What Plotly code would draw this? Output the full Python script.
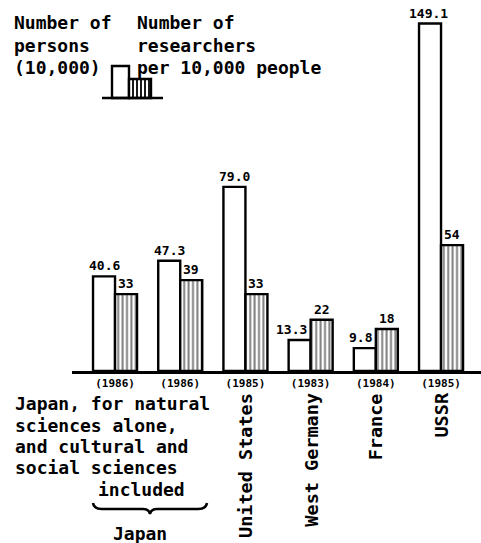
import plotly.graph_objects as go

# ---- data ----
categories = ["Japan (natural sciences)", "Japan (all sciences)", "United States",
              "West Germany", "France", "USSR"]
years = ["(1986)", "(1986)", "(1985)", "(1983)", "(1984)", "(1985)"]
persons = [40.6, 47.3, 79.0, 13.3, 9.8, 149.1]          # number of persons (10,000)
per_10000 = [33, 39, 33, 22, 18, 54]                     # researchers per 10,000 people
person_labels = ["40.6", "47.3", "79.0", "13.3", "9.8", "149.1"]
per_labels = ["33", "39", "33", "22", "18", "54"]
country_labels = ["", "", "United States", "West Germany", "France", "USSR"]

# ---- layout geometry (pixels) ----
W, H = 481, 543
L, R, T, B = 72, 0, 0, 172
PW, PH = W - L - R, H - T - B
FONT = "DejaVu Sans Mono"


def px(x):
    return (x - L) / PW


def py(y):
    return (H - B - y) / PH


fig = go.Figure()
fig.add_trace(go.Bar(
    x=categories, y=persons, name="Number of persons (10,000)",
    marker=dict(color="white", line=dict(color="black", width=2.4)),
))
fig.add_trace(go.Bar(
    x=categories, y=per_10000, name="Number of researchers per 10,000 people",
    marker=dict(color="white", line=dict(color="black", width=2.4),
                pattern=dict(shape="|", size=4.4, solidity=0.45,
                             fgcolor="black", bgcolor="white")),
))

annotations = []
label_font = dict(family=FONT, size=13, color="black", weight="bold")
# value labels above the bars
shifts_persons = [0, 0, 0, -8, -4, -2]
for c, v, t, s in zip(categories, persons, person_labels, shifts_persons):
    annotations.append(dict(x=c, y=v, text=t, xref="x", yref="y", showarrow=False,
                            xshift=-11 + s, yanchor="bottom", yshift=1, font=label_font))
for c, v, t in zip(categories, per_10000, per_labels):
    annotations.append(dict(x=c, y=v, text=t, xref="x", yref="y", showarrow=False,
                            xshift=11, yanchor="bottom", yshift=1, font=label_font))

big = dict(family=FONT, size=18, color="black", weight="bold")

# rotated country labels
for c, t in zip(categories, country_labels):
    if t:
        annotations.append(dict(x=c, y=py(391), xref="x", yref="paper", text=t,
                                textangle=-90, showarrow=False, xanchor="center",
                                yanchor="top", font=dict(big, size=18.5)))


def line(x, y, text, font=big, anchor="left"):
    annotations.append(dict(x=px(x), y=py(y), xref="paper", yref="paper", text=text,
                            showarrow=False, xanchor=anchor, yanchor="middle", font=font))


# header legend texts
for i, t in enumerate(["Number of", "persons", "(10,000)"]):
    line(12, 22 + 23 * i, t)
for i, t in enumerate(["Number of", "researchers", "per 10,000 people"]):
    line(135, 22 + 23 * i, t)

# bottom note
note = ["Japan, for natural", "sciences alone,", "and cultural and", "social sciences"]
for i, t in enumerate(note):
    line(13, 404 + 21.3 * i, t)
line(96, 489, "included")
line(140, 533, "Japan", anchor="center")

shapes = []
# legend icon
shapes.append(dict(type="rect", xref="paper", yref="paper", x0=px(112), x1=px(129),
                   y0=py(98), y1=py(66), line=dict(color="black", width=2.4),
                   fillcolor="white"))
shapes.append(dict(type="rect", xref="paper", yref="paper", x0=px(129), x1=px(151),
                   y0=py(98), y1=py(79), line=dict(color="black", width=2.4),
                   fillcolor="white"))
for xx in [133, 137, 141, 145, 149]:
    shapes.append(dict(type="line", xref="paper", yref="paper", x0=px(xx), x1=px(xx),
                       y0=py(98), y1=py(79), line=dict(color="black", width=1.8)))
shapes.append(dict(type="line", xref="paper", yref="paper", x0=px(102), x1=px(163),
                   y0=py(98), y1=py(98), line=dict(color="black", width=2.5)))


def P(x, y):
    return f"{px(x)},{py(y)}"


# brace under Japan
brace = (f"M {P(93,503)} Q {P(94,509)} {P(102,509)} L {P(143,509)} "
         f"Q {P(149,509)} {P(150,514)} Q {P(151,509)} {P(157,509)} "
         f"L {P(198,509)} Q {P(206,509)} {P(207,503)}")
shapes.append(dict(type="path", xref="paper", yref="paper", path=brace,
                   line=dict(color="black", width=2.5)))

fig.update_layout(
    width=W, height=H,
    margin=dict(l=L, r=R, t=T, b=B),
    paper_bgcolor="white", plot_bgcolor="white",
    barmode="group", bargap=0.325, bargroupgap=0,
    showlegend=False,
    annotations=annotations, shapes=shapes,
    xaxis=dict(type="category", range=[-0.66, 5.613], tickvals=categories,
               ticktext=years, showline=True, linecolor="black", linewidth=3,
               ticks="", showgrid=False, zeroline=False,
               tickfont=dict(family=FONT, size=11, color="black", weight="bold")),
    yaxis=dict(range=[0, 159.2], visible=False, showgrid=False, zeroline=False),
)

fig.write_html("out.html",
               config={"displayModeBar": False},
               post_script="document.body.style.margin='0px';"
                           "document.body.style.overflow='hidden';")
